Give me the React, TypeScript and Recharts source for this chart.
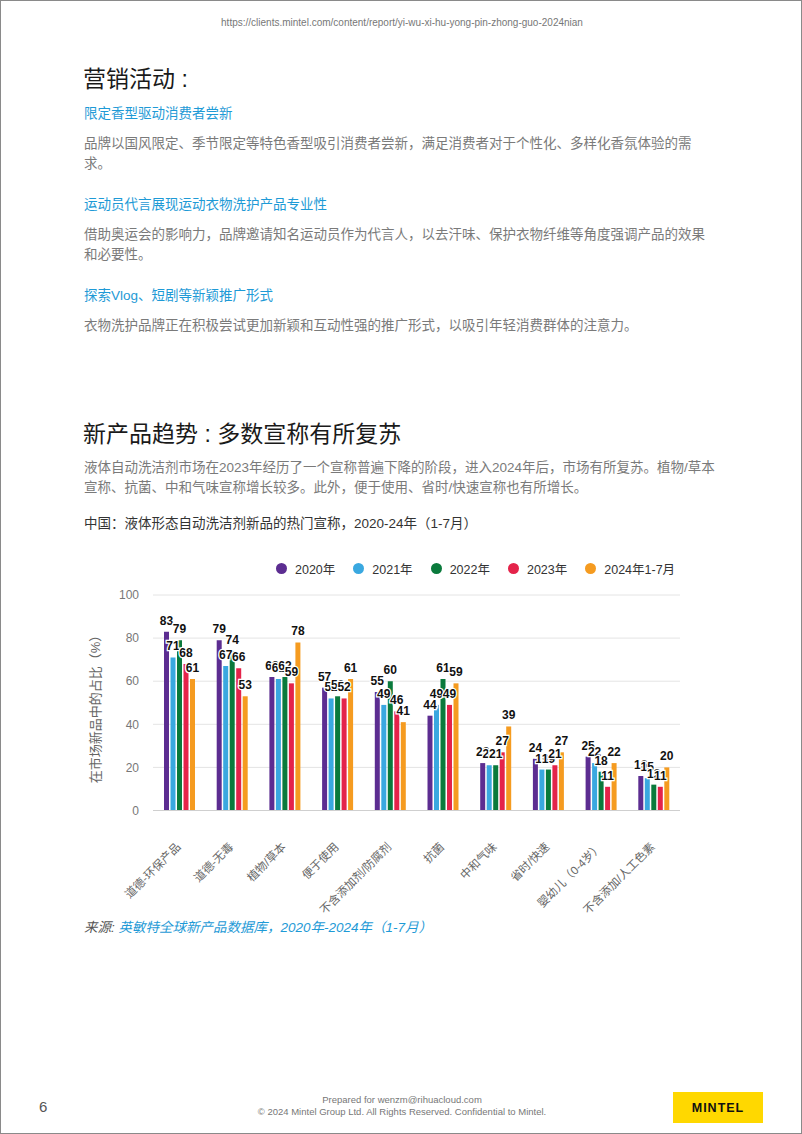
import React from 'react';
import { BarChart, Bar, XAxis, YAxis, CartesianGrid, LabelList } from 'recharts';

const categories = [
  '道德-环保产品',
  '道德-无毒',
  '植物/草本',
  '便于使用',
  '不含添加剂/防腐剂',
  '抗菌',
  '中和气味',
  '省时/快速',
  '婴幼儿（0-4岁）',
  '不含添加/人工色素',
];

const y2020 = [83, 79, 62, 57, 55, 44, 22, 24, 25, 16];
const y2021 = [71, 67, 61, 52, 49, 49, 21, 19, 22, 15];
const y2022 = [79, 74, 62, 53, 60, 61, 21, 19, 18, 12];
const y2023 = [68, 66, 59, 52, 46, 49, 27, 21, 11, 11];
const y2024 = [61, 53, 78, 61, 41, 59, 39, 27, 22, 20];

const yTicks = [0, 20, 40, 60, 80, 100];

const series = [
  { key: 'y2020', name: '2020年', color: '#5c2d91' },
  { key: 'y2021', name: '2021年', color: '#3aa8e0' },
  { key: 'y2022', name: '2022年', color: '#0a7a3c' },
  { key: 'y2023', name: '2023年', color: '#e4234a' },
  { key: 'y2024', name: '2024年1-7月', color: '#f59b20' },
];

const chartData = categories.map((name, i) => ({
  name,
  y2020: y2020[i],
  y2021: y2021[i],
  y2022: y2022[i],
  y2023: y2023[i],
  y2024: y2024[i],
}));

const FONT = '"Liberation Sans", Arial, "Noto Sans CJK SC", sans-serif';
const BLUE = '#1e9ad6';
const GRAY = '#7a7a7a';

// absolutely placed line of text, y is the vertical centre
const T = ({ x, y, size, color, children, lh = 20, style = {} }: any) => (
  <div
    style={{
      position: 'absolute',
      left: x,
      top: y - lh / 2,
      height: lh,
      lineHeight: `${lh}px`,
      fontSize: size,
      color,
      whiteSpace: 'nowrap',
      ...style,
    }}
  >
    {children}
  </div>
);

const XTick = ({ x, y, payload }: any) => (
  <text
    x={x + 2}
    y={y + 29}
    transform={`rotate(-45, ${x + 2}, ${y + 29})`}
    textAnchor="end"
    fontSize={11.5}
    fill="#666"
    fontFamily={FONT}
  >
    {payload.value}
  </text>
);

const ChartLegend = () => (
  <div style={{ position: 'absolute', left: 275, top: 558, display: 'flex', height: 18 }}>
    {series.map((s) => (
      <div key={s.key} style={{ display: 'flex', alignItems: 'center', marginRight: 18 }}>
        <span
          style={{
            width: 11,
            height: 11,
            borderRadius: '50%',
            background: s.color,
            display: 'inline-block',
            marginRight: 8,
          }}
        />
        <span style={{ fontSize: 12.5, color: '#333' }}>{s.name}</span>
      </div>
    ))}
  </div>
);

export default function App() {
  return (
    <div
      style={{
        position: 'absolute',
        left: 0,
        top: 0,
        width: 802,
        height: 1134,
        background: '#fff',
        border: '1px solid #8a8a8a',
        boxSizing: 'border-box',
        fontFamily: FONT,
        overflow: 'hidden',
      }}
    >
      <T x={0} y={22} size={10} color="#777" style={{ width: 802, textAlign: 'center' }}>
        https://clients.mintel.com/content/report/yi-wu-xi-hu-yong-pin-zhong-guo-2024nian
      </T>

      <T x={82} y={78} size={23} color="#1a1a1a" lh={30}>营销活动 :</T>

      <T x={83} y={113} size={13.5} color={BLUE}>限定香型驱动消费者尝新</T>
      <T x={83} y={143} size={13.5} color={GRAY}>
        品牌以国风限定、季节限定等特色香型吸引消费者尝新，满足消费者对于个性化、多样化香氛体验的需
      </T>
      <T x={83} y={163} size={13.5} color={GRAY}>求。</T>

      <T x={83} y={204} size={13.5} color={BLUE}>运动员代言展现运动衣物洗护产品专业性</T>
      <T x={83} y={234} size={13.5} color={GRAY}>
        借助奥运会的影响力，品牌邀请知名运动员作为代言人，以去汗味、保护衣物纤维等角度强调产品的效果
      </T>
      <T x={83} y={254} size={13.5} color={GRAY}>和必要性。</T>

      <T x={83} y={295} size={13.5} color={BLUE}>探索Vlog、短剧等新颖推广形式</T>
      <T x={83} y={325} size={13.5} color={GRAY}>
        衣物洗护品牌正在积极尝试更加新颖和互动性强的推广形式，以吸引年轻消费群体的注意力。
      </T>

      <T x={82} y={433} size={23} color="#1a1a1a" lh={30}>新产品趋势 : 多数宣称有所复苏</T>
      <T x={83} y={467} size={13.5} color={GRAY}>
        液体自动洗洁剂市场在2023年经历了一个宣称普遍下降的阶段，进入2024年后，市场有所复苏。植物/草本
      </T>
      <T x={83} y={487} size={13.5} color={GRAY}>
        宣称、抗菌、中和气味宣称增长较多。此外，便于使用、省时/快速宣称也有所增长。
      </T>

      <T x={83} y={523} size={13.5} color="#333">
        中国：液体形态自动洗洁剂新品的热门宣称，2020-24年（1-7月）
      </T>

      <ChartLegend />

      <div
        style={{
          position: 'absolute',
          left: 93,
          top: 705,
          transform: 'translate(-50%, -50%) rotate(-90deg)',
          fontSize: 13,
          color: '#666',
          whiteSpace: 'nowrap',
        }}
      >
        在市场新品中的占比（%）
      </div>

      <div style={{ position: 'absolute', left: 0, top: 585 }}>
        <BarChart
          width={700}
          height={330}
          data={chartData}
          margin={{ top: 9, right: 21, left: 92, bottom: 5.5 }}
          barSize={5}
          barGap={1.5}
        >
          <CartesianGrid vertical={false} stroke="#e4e4e4" />
          <XAxis
            dataKey="name"
            interval={0}
            height={100}
            tickLine={false}
            axisLine={{ stroke: '#cfcfcf' }}
            tick={<XTick />}
          />
          <YAxis
            width={60}
            domain={[0, 100]}
            ticks={yTicks}
            tickLine={false}
            axisLine={false}
            tickMargin={8}
            tick={{ fontSize: 12, fill: '#777', fontFamily: FONT }}
          />
          {series.map((s) => (
            <Bar key={s.key} dataKey={s.key} name={s.name} fill={s.color} isAnimationActive={false}>
              <LabelList
                dataKey={s.key}
                position="top"
                offset={7}
                fontSize={12}
                fontWeight="bold"
                fill="#111"
                stroke="#fff"
                strokeWidth={2.5}
                paintOrder="stroke"
                fontFamily={FONT}
              />
            </Bar>
          ))}
        </BarChart>
      </div>

      <div style={{ position: 'absolute', left: 83, top: 917, fontSize: 13.5, fontStyle: 'italic', lineHeight: '20px' }}>
        <span style={{ color: '#555' }}>来源: </span>
        <span style={{ color: BLUE }}>英敏特全球新产品数据库，2020年-2024年（1-7月）</span>
      </div>

      <T x={38} y={1106} size={15} color="#555">6</T>
      <T x={0} y={1099} size={9.5} color="#777" lh={12} style={{ width: 802, textAlign: 'center' }}>
        Prepared for wenzm@rihuacloud.com
      </T>
      <T x={0} y={1111} size={9.5} color="#777" lh={12} style={{ width: 802, textAlign: 'center' }}>
        © 2024 Mintel Group Ltd. All Rights Reserved. Confidential to Mintel.
      </T>
      <div
        style={{
          position: 'absolute',
          left: 672,
          top: 1091,
          width: 90,
          height: 31,
          background: '#ffd800',
          display: 'flex',
          alignItems: 'center',
          justifyContent: 'center',
          fontWeight: 'bold',
          fontSize: 12.5,
          letterSpacing: 1,
          color: '#111',
        }}
      >
        MINTEL
      </div>
    </div>
  );
}
